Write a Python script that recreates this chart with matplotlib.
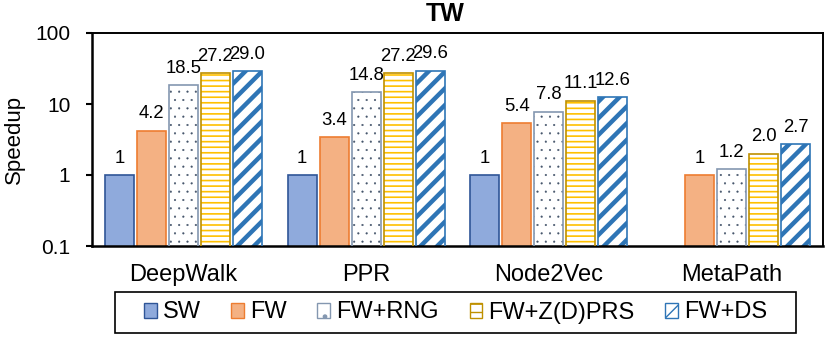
import matplotlib
matplotlib.use("Agg")
import matplotlib.pyplot as plt
from matplotlib.patches import Patch, Rectangle
import numpy as np

plt.rcParams['font.family'] = ['Liberation Sans', 'DejaVu Sans']

categories = ["DeepWalk", "PPR", "Node2Vec", "MetaPath"]
series_names = ["SW", "FW", "FW+RNG", "FW+Z(D)PRS", "FW+DS"]
sw = [1, 1, 1, None]
fw = [4.2, 3.4, 5.4, 1]
fw_rng = [18.5, 14.8, 7.8, 1.2]
fw_prs = [27.2, 27.2, 11.1, 2.0]
fw_ds = [29.0, 29.6, 12.6, 2.7]
series_values = [sw, fw, fw_rng, fw_prs, fw_ds]
y_ticks = [0.1, 1, 10, 100]
y_tick_labels = ["0.1", "1", "10", "100"]

# style per series: face, edge(border), hatch, hatch color, hatch linewidth, legend hatch
styles = [
    dict(face="#8FAADC", edge="#2F5597", hatch=None, hcol=None, hlw=None, lh=None),
    dict(face="#F4B183", edge="#ED7D31", hatch=None, hcol=None, hlw=None, lh=None),
    dict(face="white", edge="#8497B0", hatch="..", hcol="#44546A", hlw=0.3, lh="."),
    dict(face="white", edge="#BF9000", hatch="---", hcol="#FFC000", hlw=1.2, lh="--"),
    dict(face="white", edge="#2E75B6", hatch="//", hcol="#2E75B6", hlw=3.2, lh="//"),
]

fig = plt.figure(figsize=(8.31, 3.45), dpi=100)
ax = fig.add_axes([92/831, 1-246/345, (823-92)/831, (246-33)/345])
ax.set_yscale('log')

x = np.arange(len(categories))
width = 0.158
pitch = 0.175

for i, (vals, st) in enumerate(zip(series_values, styles)):
    pos = x + (i - 2) * pitch
    xs = [p for p, v in zip(pos, vals) if v is not None]
    vs = [v for v in vals if v is not None]
    if st["hatch"] is None:
        ax.bar(xs, vs, width=width, color=st["face"], edgecolor=st["edge"],
               linewidth=1.2, zorder=2)
    else:
        with plt.rc_context({'hatch.linewidth': st["hlw"]}):
            bars = ax.bar(xs, vs, width=width, color=st["face"], edgecolor=st["hcol"],
                          linewidth=0, hatch=st["hatch"], zorder=2)
            for b in bars:
                if hasattr(b, "set_hatch_linewidth"):
                    b.set_hatch_linewidth(st["hlw"])
        ax.bar(xs, vs, width=width, fill=False, edgecolor=st["edge"],
               linewidth=1.2, zorder=3)
    for p, v in zip(xs, vs):
        lab = "1" if v == 1 else f"{v:.1f}"
        ax.annotate(lab, (p, v), xytext=(0, 6), textcoords="offset points",
                    ha="center", va="bottom", fontsize=13.3, color="black")

ax.set_ylim(0.1, 100)
ax.set_xlim(-0.5, 3.5)
ax.set_yticks(y_ticks)
ax.set_yticklabels(y_tick_labels)
ax.yaxis.set_minor_locator(matplotlib.ticker.NullLocator())
ax.set_xticks(x)
ax.set_xticklabels(categories)
ax.tick_params(axis='y', direction='out', length=4.5, width=1.5, pad=11, labelsize=15)
ax.tick_params(axis='x', length=0, pad=13, labelsize=17)
for s in ax.spines.values():
    s.set_linewidth(1.4)
ax.spines['left'].set_linewidth(1.8)
ax.spines['bottom'].set_linewidth(1.8)

fig.text(445/831, 1-14/345, "TW", ha="center", va="center", fontsize=18, fontweight="bold")
fig.text(14/831, 1-139/345, "Speedup", rotation=90, ha="center", va="center", fontsize=16)

handles = []
for name, st in zip(series_names, styles):
    if st["hatch"] is None:
        handles.append(Patch(facecolor=st["face"], edgecolor=st["edge"], linewidth=1.0, label=name))
    else:
        hp = Patch(facecolor="white", edgecolor=st["edge"], linewidth=1.0,
                   hatch=st["lh"], label=name)
        if hasattr(hp, "set_hatch_linewidth"):
            hp.set_hatch_linewidth(min(st["hlw"], 1.5) if st["hlw"] > 0.5 else 0.8)
        handles.append(hp)
leg = fig.legend(handles=handles, loc="center", bbox_to_anchor=(455.5/831, 1-312.5/345),
                 ncol=5, fontsize=17, frameon=False,
                 handlelength=0.55, handleheight=0.6, handletextpad=0.25, columnspacing=1.3,
                 borderpad=0.3)
fig.patches.append(Rectangle((115/831, 1-333/345), (796-115)/831, (333-292)/345,
                             transform=fig.transFigure, fill=False, edgecolor="black",
                             linewidth=1.2, zorder=5))

fig.savefig("out.png", dpi=100)
